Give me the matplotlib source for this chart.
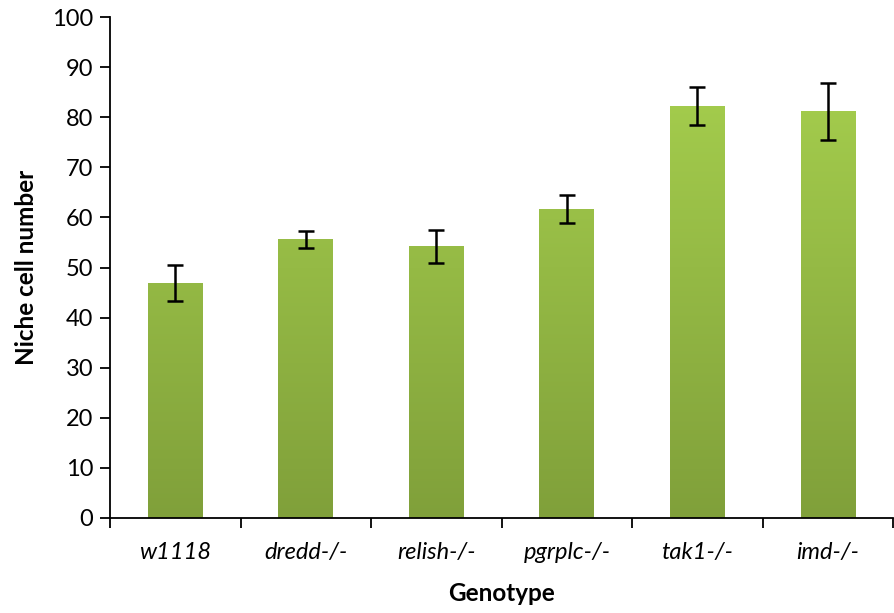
import numpy as np
import matplotlib
matplotlib.use("Agg")
import matplotlib.pyplot as plt
from matplotlib.colors import LinearSegmentedColormap

genotypes = ['w1118', 'dredd-/-', 'relish-/-', 'pgrplc-/-', 'tak1-/-', 'imd-/-']
niche_cells = [46.9, 55.7, 54.3, 61.7, 82.2, 81.2]
errors = [3.6, 1.7, 3.3, 2.8, 3.8, 5.7]

plt.rcParams['font.family'] = ['Lato', 'DejaVu Sans']

fig = plt.figure(figsize=(8.95, 6.13), dpi=100)
ax = fig.add_axes([0.123, 0.155, 0.875, 0.817])

x = np.arange(len(genotypes))
bars = ax.bar(x, niche_cells, width=0.42, color='none', zorder=2)

# gradient fill, light green at top, darker at bottom
cmap = LinearSegmentedColormap.from_list('grn', ['#80A03A', '#AAD450'])
grad = np.linspace(0, 1, 256).reshape(-1, 1)
for b in bars:
    im = ax.imshow(grad, cmap=cmap, origin='lower', aspect='auto',
                   extent=[b.get_x(), b.get_x() + b.get_width(), 0, 100],
                   zorder=2)
    im.set_clip_path(b)

ax.errorbar(x, niche_cells, yerr=errors, fmt='none', ecolor='black',
            elinewidth=1.8, capsize=6, capthick=1.8, zorder=3)

ax.set_xlim(-0.5, len(genotypes) - 0.5)
ax.set_ylim(0, 100)
ax.set_yticks(range(0, 101, 10))
ax.tick_params(axis='y', labelsize=17, length=7, width=1.3, direction='out', pad=5)

ax.set_xticks(x)
ax.set_xticklabels(genotypes, fontsize=17, style='italic')
ax.set_xticks(np.arange(-0.5, len(genotypes)), minor=True)
ax.tick_params(axis='x', which='major', length=0, pad=17)
ax.tick_params(axis='x', which='minor', length=7, width=1.3, direction='out')

for s in ['top', 'right']:
    ax.spines[s].set_visible(False)
for s in ['left', 'bottom']:
    ax.spines[s].set_linewidth(1.3)

ax.set_ylabel('Niche cell number', fontsize=17.5, fontweight='bold', labelpad=10)
ax.set_xlabel('Genotype', fontsize=17.5, fontweight='bold', labelpad=14)

fig.savefig('out.png', dpi=100)
